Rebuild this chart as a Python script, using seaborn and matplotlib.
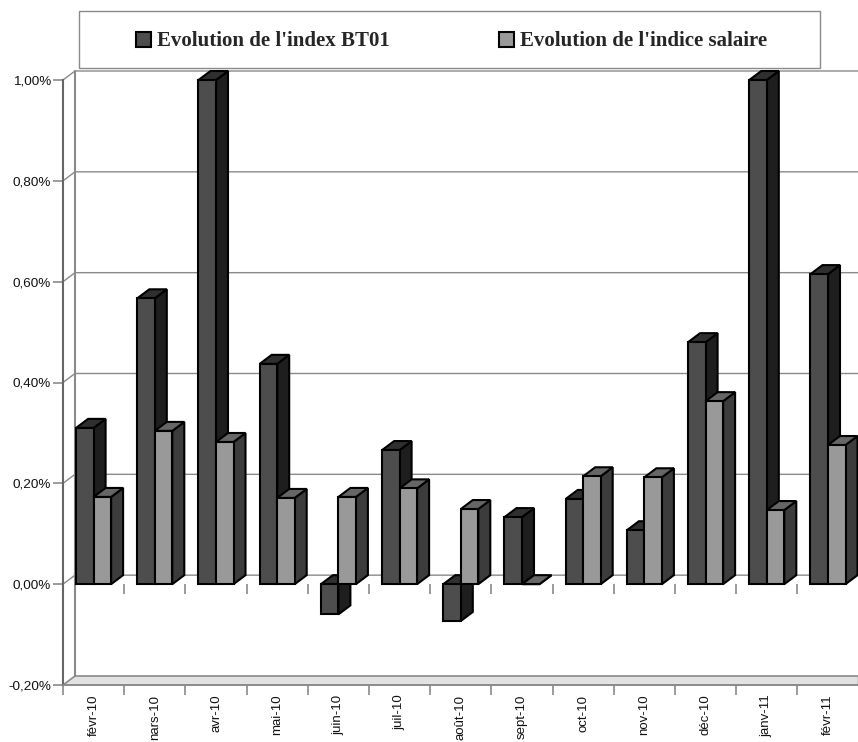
import matplotlib
matplotlib.use("Agg")
import matplotlib.pyplot as plt
import pandas as pd
import seaborn as sns
from matplotlib.patches import Patch, Polygon, Rectangle
from matplotlib.transforms import Bbox

months = ["févr-10", "nars-10", "avr-10", "mai-10", "juin-10", "juil-10", "août-10",
          "sept-10", "oct-10", "nov-10", "déc-10", "janv-11", "févr-11"]
index_bt01 = [0.31, 0.567, 1.0, 0.437, -0.06, 0.266, -0.073, 0.133, 0.169, 0.107, 0.48, 1.0, 0.615]
indice_salaire = [0.173, 0.304, 0.282, 0.171, 0.173, 0.19, 0.149, 0.0, 0.214, 0.212, 0.363, 0.147, 0.276]
y_ticks = [-0.2, 0.0, 0.2, 0.4, 0.6, 0.8, 1.0]
name_bt01 = "Evolution de l'index BT01"
name_salaire = "Evolution de l'indice salaire"

W, H = 858, 742
# pixel sizes in data units, the fake 3D depth is built from these
PX_X = 1 / 61.2
PX_Y = 1 / 504
DX = 12 * PX_X
DY = 9 * PX_Y
GREY = "#8a8a8a"

sns.set_theme(style="white")
plt.rcParams["font.family"] = ["Liberation Sans", "DejaVu Sans"]

df = pd.DataFrame({
    "month": months * 2,
    "value": index_bt01 + indice_salaire,
    "serie": [name_bt01] * len(months) + [name_salaire] * len(months),
})

fig = plt.figure(figsize=(W / 100, H / 100), dpi=100)
ax = fig.add_axes([63 / W, (H - 685) / H, 795.6 / W, 605 / H])
sns.barplot(data=df, x="month", y="value", hue="serie", palette=["#4d4d4d", "#999999"],
            width=0.572, gap=0, saturation=1, edgecolor="black", linewidth=1.5,
            legend=False, ax=ax)
ax.set_xlim(-0.5, len(months) - 0.5)
ax.set_ylim(-0.2, 1.0)
ax.set_xlabel("")
ax.set_ylabel("")

# back wall, floor and grid
x0, x1 = ax.get_xlim()
ax.fill_between([x0 + DX, x1], -0.2 + DY, 1.0 + DY, color="white", zorder=0, clip_on=False)
ax.add_patch(Polygon([(x0, -0.2), (x0 + DX, -0.2 + DY), (x1, -0.2 + DY), (x1, -0.2)],
                     facecolor="#e2e2e2", edgecolor=GREY, linewidth=1.2, zorder=0.6, clip_on=False))
for v in y_ticks:
    if v > -0.2:
        ax.plot([x0, x0 + DX, x1], [v, v + DY, v + DY], color=GREY, lw=1, zorder=0.7, clip_on=False)
ax.plot([x0 + DX, x0 + DX], [-0.2 + DY, 1.0 + DY], color=GREY, lw=1.5, zorder=0.7, clip_on=False)

# depth faces of the bars
faces = [("#1e1e1e", "#2f2f2f", 3), ("#3c3c3c", "#666666", 4)]
for bars, (side, top, z) in zip(ax.containers, faces):
    for bar in bars:
        left = bar.get_x()
        right = left + bar.get_width()
        hi = max(bar.get_y(), bar.get_y() + bar.get_height())
        lo = min(bar.get_y(), bar.get_y() + bar.get_height())
        bar.set_zorder(z + 0.1)
        bar.set_clip_on(False)
        ax.add_patch(Polygon([(right, lo), (right + DX, lo + DY), (right + DX, hi + DY), (right, hi)],
                             facecolor=side, edgecolor="black", lw=1.5, zorder=z, clip_on=False))
        ax.add_patch(Polygon([(left, hi), (left + DX, hi + DY), (right + DX, hi + DY), (right, hi)],
                             facecolor=top, edgecolor="black", lw=1.5, zorder=z, clip_on=False))

# ticks on the zero line sit between the categories
edges = [i - 0.5 for i in range(len(months) + 1)]
ax.vlines(edges[1:], -10 * PX_Y, 0, color=GREY, lw=1.2, zorder=0.8, clip_on=False)

sns.despine(ax=ax, top=True, right=True)
ax.spines["left"].set_color("#666666")
ax.spines["left"].set_linewidth(1.5)
ax.spines["bottom"].set_color(GREY)
ax.spines["bottom"].set_linewidth(1.2)

ax.set_yticks(y_ticks)
ax.set_yticklabels([f"{v:.2f}%".replace(".", ",") for v in y_ticks], fontsize=9.7, color="#111111")
ax.tick_params(axis="y", left=True, length=7.5, width=1.2, color=GREY, pad=1)
ax.set_xticks(range(len(months)))
ax.set_xticklabels(months, rotation=90, fontsize=9.5, color="#111111")
ax.tick_params(axis="x", which="major", bottom=False, length=0, pad=7)
ax.set_xticks(edges, minor=True)
ax.tick_params(axis="x", which="minor", bottom=True, length=7.5, width=1.2, color=GREY)

# legend: outer box drawn apart so the two entries keep their inset
fig.add_artist(Rectangle((79 / W, (H - 68) / H), 741 / W, 57 / H, transform=fig.transFigure,
                         facecolor="white", edgecolor=GREY, lw=1))
handles = [Patch(facecolor="#4d4d4d", edgecolor="black", lw=1.5, label=name_bt01),
           Patch(facecolor="#999999", edgecolor="black", lw=1.5, label=name_salaire)]
box = Bbox.from_extents(136 / W, (H - 70) / H, 767 / W, (H - 13) / H)
fig.legend(handles=handles, ncol=2, loc="center", bbox_to_anchor=box, bbox_transform=fig.transFigure,
           mode="expand", frameon=False, borderaxespad=0,
           prop={"family": "Liberation Serif", "weight": "bold", "size": 15},
           handlelength=0.7, handleheight=0.7, handletextpad=0.3, borderpad=0, columnspacing=5.3)

fig.savefig("out.png", dpi=100)
